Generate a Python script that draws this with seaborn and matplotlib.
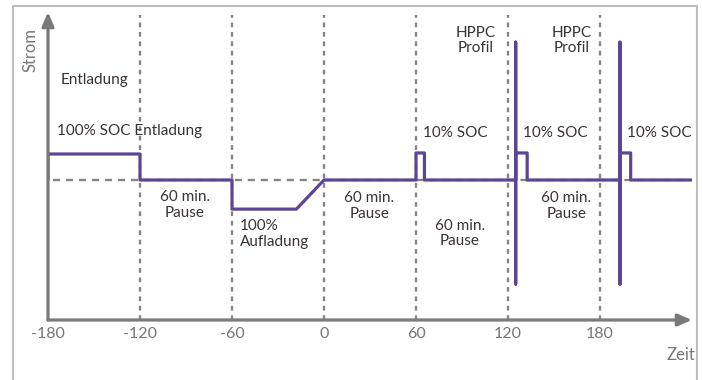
import matplotlib
matplotlib.use("Agg")
import matplotlib.pyplot as plt
import seaborn as sns
import pandas as pd
from matplotlib.lines import Line2D

sns.set_theme(style="white")
plt.rcParams['font.family'] = ['Lato', 'DejaVu Sans']

# current profile (time in minutes, relative current)
time = [-180, -180, -120, -120, -60, -60, -18, 0, 60, 60, 65.5, 65.5,
        125, 125, 125, 125, 132.5, 132.5, 193, 193, 193, 193, 200, 200, 240]
current = [0, 1.0, 1.0, 0, 0, -1.12, -1.12, 0, 0, 1.04, 1.04, 0,
           0, 5.3, -4.0, 1.04, 1.04, 0, 0, 5.3, -4.0, 1.04, 1.04, 0, 0]
phase_bounds = [-120, -60, 0, 60, 120, 180]
tick_values = [-180, -120, -60, 0, 60, 120, 180]
tick_labels = ["-180", "-120", "-60", "0", "60", "120", "180"]

df = pd.DataFrame({"Zeit": time, "Strom": current})

W, H = 702, 380
fig = plt.figure(figsize=(W / 100, H / 100), dpi=100)
ax = fig.add_axes([48 / W, 1 - 320 / H, (692 - 48) / W, (320 - 12) / H])
xmin, xmax = -180, 240
ymin, ymax = -140 / 26, 168 / 26
ax.set_xlim(xmin, xmax)
ax.set_ylim(ymin, ymax)

grey = "#858585"
axis_grey = "#7a7a7a"
purple = "#5d4596"
txt = "#3a3232"

# dashed guide lines
ax.vlines(phase_bounds, ymin, 165 / 26, colors=grey, linestyles=(0, (2.0, 2.0)), lw=1.7, zorder=1)
ax.hlines(0, -177, 238, colors=grey, linestyles=(0, (3, 2.5)), lw=1.7, zorder=1)

sns.lineplot(data=df, x="Zeit", y="Strom", sort=False, estimator=None,
             color=purple, lw=2.3, ax=ax, zorder=3)

# axes with arrows
for s in ax.spines.values():
    s.set_visible(False)
ax.annotate("", xy=(xmax, ymin), xytext=(xmin, ymin),
            arrowprops=dict(arrowstyle="-|>,head_length=0.7,head_width=0.3", color=axis_grey, lw=2.3,
                            shrinkA=0, shrinkB=0), annotation_clip=False)
ax.annotate("", xy=(xmin, ymax), xytext=(xmin, ymin),
            arrowprops=dict(arrowstyle="-|>,head_length=0.7,head_width=0.3", color=axis_grey, lw=2.3,
                            shrinkA=0, shrinkB=0), annotation_clip=False)

ax.set_xticks(tick_values)
ax.set_xticklabels(tick_labels)
ax.set_yticks([])
ax.tick_params(axis="x", length=0, pad=5, labelsize=11.5, labelcolor="#777777")
ax.set_xlabel("")
ax.set_ylabel("")

fs = 11
ax.text(-172, 3.85, "Entladung", ha="left", va="center", fontsize=fs, color=txt)
ax.text(-174, 1.88, "100% SOC Entladung", ha="left", va="center", fontsize=fs, color=txt)
ax.text(-54.8, -2.08, "100%\nAufladung", ha="left", va="center", fontsize=fs, color=txt, linespacing=1.15)
for x, y in [(-90.7, -0.96), (29.4, -1.0), (88.7, -2.06), (158, -1.0)]:
    ax.text(x, y, "60 min.\nPause", ha="center", va="center", fontsize=fs, color=txt, linespacing=1.15)
for x in [64.6, 129.8, 197.6]:
    ax.text(x, 1.81, "10% SOC", ha="left", va="center", fontsize=fs, color=txt)
for x in [99, 161.8]:
    ax.text(x, 5.37, "HPPC\nProfil", ha="center", va="center", fontsize=fs, color=txt, linespacing=1.05)

fig.text(695 / W, 1 - 355 / H, "Zeit", ha="right", va="center", fontsize=12, color="#777777")
fig.text(30 / W, 1 - 50 / H, "Strom", ha="center", va="center", rotation=90, fontsize=12, color="#777777")

# outer frame (open at bottom)
frame_c = "#bdbdbd"
fig.add_artist(Line2D([13 / W, 13 / W], [0, 1 - 6 / H], color=frame_c, lw=1.5, transform=fig.transFigure))
fig.add_artist(Line2D([697 / W, 697 / W], [0, 1 - 6 / H], color=frame_c, lw=1.5, transform=fig.transFigure))
fig.add_artist(Line2D([13 / W, 697 / W], [1 - 6 / H, 1 - 6 / H], color=frame_c, lw=1.5, transform=fig.transFigure))

fig.savefig("out.png", dpi=100)
